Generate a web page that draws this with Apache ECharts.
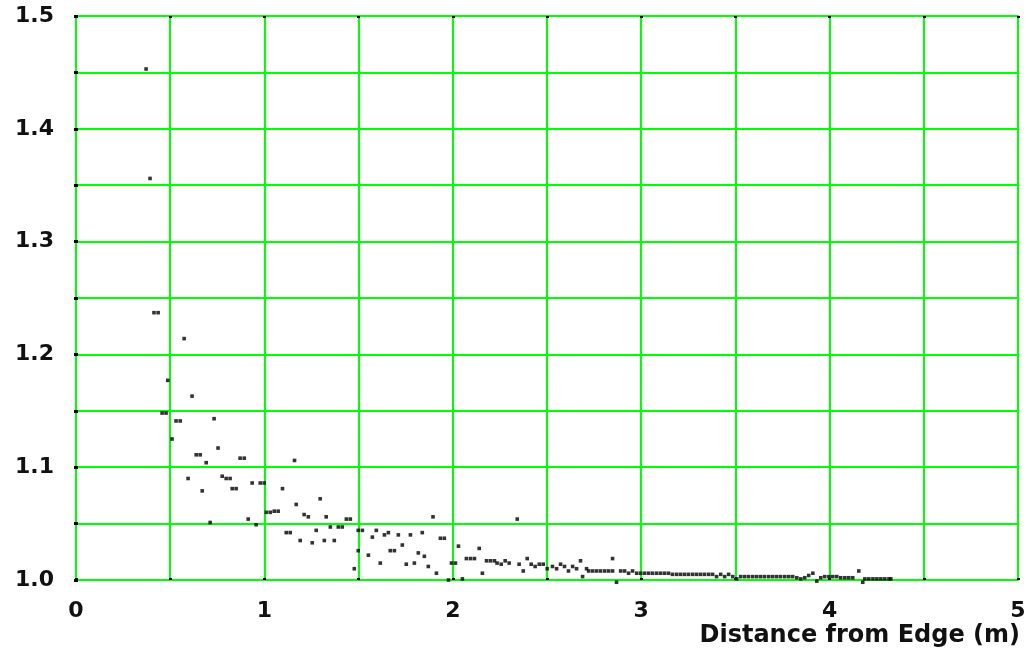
<!DOCTYPE html>
<html>
<head>
<meta charset="utf-8">
<script src="https://cdn.jsdelivr.net/npm/echarts@6/dist/echarts.min.js"></script>
<style>html,body{margin:0;padding:0;background:#fff}#c{width:1029px;height:667px}</style>
</head>
<body>
<div id="c"></div>
<script>
// Distance from edge (m)
const xVals = [
  0.372, 0.393, 0.414, 0.436, 0.487, 0.574, 0.616, 0.457, 0.478, 0.531, 0.553, 0.733, 0.510, 0.754,
  0.638, 0.659, 0.691, 0.871, 0.893, 1.160, 0.595, 0.776, 0.797, 0.818, 0.670, 0.829, 0.850, 0.935,
  0.978, 0.999, 1.096, 0.712, 0.914, 0.956, 1.010, 1.031, 1.052, 1.073, 1.169, 1.296, 1.211, 1.233,
  1.328, 1.435, 1.456, 1.116, 1.137, 1.190, 1.275, 1.254, 1.318, 1.371, 1.350, 1.392, 1.413, 1.498,
  1.520, 1.498, 1.477, 1.552, 1.594, 1.573, 1.637, 1.658, 1.615, 1.668, 1.690, 1.711, 1.732, 1.753,
  1.775, 1.796, 1.817, 1.838, 1.849, 1.870, 1.895, 1.913, 1.934, 1.955, 1.977, 1.993, 2.014, 2.030,
  2.051, 2.072, 2.094, 2.115, 2.140, 2.157, 2.179, 2.200, 2.221, 2.235, 2.257, 2.278, 2.299, 2.342,
  2.352, 2.374, 2.395, 2.416, 2.437, 2.459, 2.480, 2.501, 2.529, 2.551, 2.572, 2.593, 2.614, 2.636,
  2.657, 2.678, 2.689, 2.710, 2.721, 2.742, 2.763, 2.784, 2.806, 2.827, 2.848, 2.848, 2.869, 2.891,
  2.912, 2.933, 2.954, 2.976, 2.997, 3.018, 3.039, 3.060, 3.082, 3.103, 3.124, 3.145, 3.166, 3.188,
  3.209, 3.230, 3.251, 3.273, 3.294, 3.315, 3.336, 3.358, 3.379, 3.400, 3.422, 3.443, 3.464, 3.486,
  3.507, 3.528, 3.549, 3.570, 3.592, 3.613, 3.634, 3.655, 3.677, 3.698, 3.719, 3.740, 3.762, 3.783,
  3.804, 3.826, 3.847, 3.868, 3.889, 3.911, 3.932, 3.953, 3.974, 3.996, 4.017, 4.038, 4.059, 4.081,
  4.102, 4.123, 4.155, 4.176, 4.187, 4.208, 4.230, 4.251, 4.272, 4.293, 4.315, 4.325
];
// Ratio (y)
const yVals = [
  1.453, 1.356, 1.237, 1.237, 1.177, 1.214, 1.163, 1.148, 1.148, 1.141, 1.141, 1.143, 1.125, 1.117,
  1.111, 1.111, 1.104, 1.108, 1.108, 1.106, 1.090, 1.092, 1.090, 1.090, 1.079, 1.081, 1.081, 1.086,
  1.086, 1.086, 1.081, 1.051, 1.054, 1.049, 1.060, 1.060, 1.061, 1.061, 1.067, 1.072, 1.058, 1.056,
  1.056, 1.054, 1.054, 1.042, 1.042, 1.035, 1.044, 1.033, 1.035, 1.035, 1.047, 1.047, 1.047, 1.044,
  1.044, 1.026, 1.010, 1.022, 1.044, 1.038, 1.040, 1.042, 1.015, 1.026, 1.026, 1.040, 1.031, 1.014,
  1.040, 1.015, 1.024, 1.042, 1.021, 1.012, 1.056, 1.006, 1.037, 1.037, 1.000, 1.015, 1.015, 1.030,
  1.001, 1.019, 1.019, 1.019, 1.028, 1.006, 1.017, 1.017, 1.017, 1.015, 1.014, 1.017, 1.015, 1.054,
  1.014, 1.008, 1.019, 1.014, 1.012, 1.014, 1.014, 1.010, 1.012, 1.010, 1.014, 1.012, 1.008, 1.012,
  1.010, 1.017, 1.003, 1.010, 1.008, 1.008, 1.008, 1.008, 1.008, 1.008, 1.008, 1.019, 0.998, 1.008,
  1.008, 1.006, 1.008, 1.006, 1.006, 1.006, 1.006, 1.006, 1.006, 1.006, 1.006, 1.006, 1.005, 1.005,
  1.005, 1.005, 1.005, 1.005, 1.005, 1.005, 1.005, 1.005, 1.005, 1.003, 1.005, 1.003, 1.005, 1.003,
  1.001, 1.003, 1.003, 1.003, 1.003, 1.003, 1.003, 1.003, 1.003, 1.003, 1.003, 1.003, 1.003, 1.003,
  1.003, 1.002, 1.001, 1.002, 1.004, 1.006, 0.999, 1.002, 1.003, 1.003, 1.003, 1.003, 1.002, 1.002,
  1.002, 1.002, 1.008, 0.998, 1.001, 1.001, 1.001, 1.001, 1.001, 1.001, 1.001, 1.001
];
const xAxisName = 'Distance from Edge (m)';
const xMin = 0, xMax = 5, xStep = 0.5;
const yMin = 1.0, yMax = 1.5, yStep = 0.05;

const points = xVals.map((x, i) => [x, yVals[i]]);
const GREEN = '#00ff00';
const font = '"DejaVu Sans", Verdana, sans-serif';

function isWhole(v, d) { return Math.abs(v / d - Math.round(v / d)) < 1e-6; }

const tickStyle = { show: true, inside: true, length: 2, lineStyle: { color: '#000', width: 3 } };
const baseAxis = {
  type: 'value',
  axisLine: { show: true, lineStyle: { color: GREEN, width: 2 } },
  axisTick: tickStyle,
  splitLine: { show: true, lineStyle: { color: GREEN, width: 2 } }
};

const chart = echarts.init(document.getElementById('c'), null, { renderer: 'canvas' });
chart.setOption({
  animation: false,
  backgroundColor: '#fff',
  grid: { left: 76, right: 11, top: 16, bottom: 87, containLabel: false },
  xAxis: [
    Object.assign({}, baseAxis, {
      position: 'bottom', min: xMin, max: xMax, interval: xStep,
      axisLabel: {
        show: true, margin: 20, color: '#111', fontFamily: font, fontWeight: 'bold', fontSize: 22,
        formatter: v => isWhole(v, 1) ? String(Math.round(v)) : ''
      }
    }),
    Object.assign({}, baseAxis, {
      position: 'top', min: xMin, max: xMax, interval: xStep,
      axisLabel: { show: false }, splitLine: { show: false }
    })
  ],
  yAxis: [
    Object.assign({}, baseAxis, {
      position: 'left', min: yMin, max: yMax, interval: yStep,
      axisLabel: {
        show: true, margin: 22, color: '#111', fontFamily: font, fontWeight: 'bold', fontSize: 22,
        formatter: v => isWhole(v, 0.1) ? v.toFixed(1) : ''
      }
    }),
    Object.assign({}, baseAxis, {
      position: 'right', min: yMin, max: yMax, interval: yStep,
      axisLabel: { show: false }, splitLine: { show: false }
    })
  ],
  graphic: [{
    type: 'text', right: 9, top: 624,
    style: { text: xAxisName, fill: '#111', font: 'bold 24px ' + font }
  }],
  series: [{
    type: 'scatter',
    xAxisIndex: 0, yAxisIndex: 0,
    clip: false,
    symbol: 'rect',
    symbolSize: 3.6,
    itemStyle: { color: '#000' },
    data: points,
    z: 5
  }]
});
</script>
</body>
</html>
